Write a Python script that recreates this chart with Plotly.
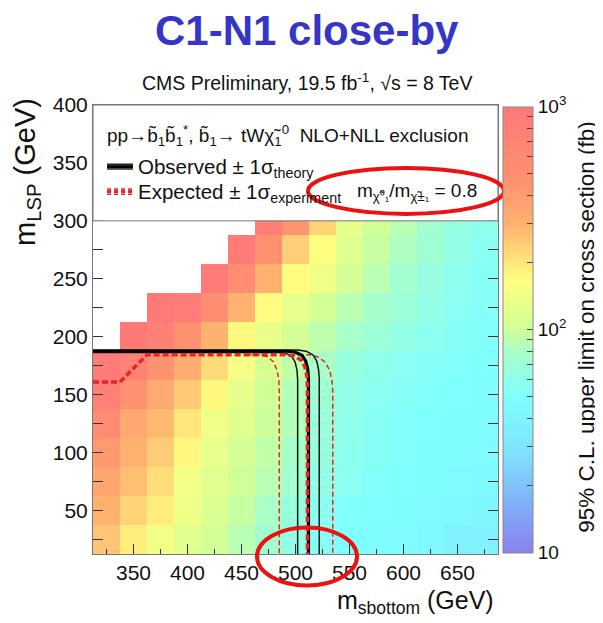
import math
import plotly.graph_objects as go

# ---------------- data ----------------
x_centers = [325, 350, 375, 400, 425, 450, 475, 500, 525, 550, 575, 600, 625, 650, 675]
y_centers = [25, 50, 75, 100, 125, 150, 175, 200, 225, 250, 275, 300]
N = None
limits_fb = [
    [260, 190, 145, 120, 102, 88, 74, 62, 55, 50, 48, 46, 44, 39, 40],      # 25
    [300, 230, 190, 140, 112, 95, 80, 66, 57, 52, 50, 48, 46, 44, 43],      # 50
    [350, 270, 215, 150, 120, 100, 88, 74, 62, 56, 52, 50, 48, 46, 45],     # 75
    [420, 300, 245, 175, 130, 105, 92, 78, 66, 58, 54, 51, 49, 48, 47],     # 100
    [560, 340, 280, 200, 145, 120, 98, 85, 68, 60, 55, 52, 50, 49, 48],     # 125
    [760, 480, 330, 250, 175, 128, 100, 85, 72, 62, 57, 54, 52, 50, 49],    # 150
    [900, 720, 460, 320, 220, 150, 110, 92, 80, 66, 60, 56, 53, 51, 50],    # 175
    [N, 950, 780, 480, 300, 175, 130, 105, 90, 80, 70, 63, 58, 54, 52],     # 200
    [N, N, 950, 850, 520, 300, 170, 130, 105, 88, 78, 70, 62, 56, 53],      # 225
    [N, N, N, N, 900, 520, 300, 170, 140, 105, 88, 75, 65, 58, 54],         # 250
    [N, N, N, N, N, 900, 480, 240, 165, 120, 95, 82, 72, 62, 56],           # 275
    [N, N, N, N, N, N, 800, 450, 230, 130, 100, 88, 75, 65, 58],            # 300
]

# exclusion contours (m_sbottom, m_LSP) in GeV
obs_x = [312.5, 492, 500, 506, 509.5, 511.3, 512, 512]
obs_y = [187.5, 187.5, 186.6, 184, 179, 172, 164, 12.5]
obs_up_x = [312.5, 502, 510, 516, 519.5, 521.3, 522, 522]
obs_up_y = [188.5, 188.5, 187.4, 184.5, 179.5, 172, 164, 12.5]
obs_dn_x = [312.5, 484, 491, 496.5, 499.7, 501.4, 502, 502]
obs_dn_y = [186.5, 186.5, 185.6, 183, 178, 171, 163, 12.5]

exp_x = [312.5, 337.5, 362.5, 490, 499, 505, 508.7, 510.5, 511, 511]
exp_y = [161, 161, 184.5, 184.5, 183.3, 180, 174, 166, 158, 12.5]
exp_dn_x = [455, 467, 474, 479.5, 483, 484.6, 485, 485]
exp_dn_y = [184.5, 184.5, 182.8, 178.5, 171, 162, 152, 12.5]
exp_up_x = [495, 512, 521, 527.5, 531.7, 533.8, 534.5, 534.5]
exp_up_y = [184.5, 184.5, 182.5, 178, 171, 162, 153, 12.5]

x_ticks = [350, 400, 450, 500, 550, 600, 650]
y_ticks = [50, 100, 150, 200, 250, 300, 350, 400]
cbar_major = [10, 100, 1000]
cbar_major_text = ["10", "10<sup>2</sup>", "10<sup>3</sup>"]
cbar_minor = [20, 30, 40, 50, 60, 70, 80, 90, 200, 300, 400, 500, 600, 700, 800, 900]

colorscale = [
    [0.0, "#8a80f0"], [0.11, "#80b0f8"], [0.22, "#80e0ff"], [0.35, "#80ffff"],
    [0.45, "#a8ffc8"], [0.5, "#d0ff98"], [0.61, "#ffff80"], [0.74, "#ffb070"],
    [0.84, "#ff9070"], [1.0, "#ff7878"],
]

FONT = "Liberation Sans, Arial, Helvetica, sans-serif"

# page body has an 8px margin: figure is placed at (8, 8) in the window
OFF = 8
W, H = 603 - OFF, 623 - OFF
PL, PR, PT, PB = 93, 498, 105, 554.5   # plot area in window pixels

# ---------------- figure ----------------
z_log = [[(math.log10(v) if v is not None else float("nan")) for v in row] for row in limits_fb]

cb_vals = [math.log10(v) for v in cbar_major + cbar_minor]
cb_text = cbar_major_text + [""] * len(cbar_minor)

def px2paper_x(px):
    return (px - PL) / (PR - PL)

def px2paper_y(py):
    return (PB - py) / (PB - PT)

fig = go.Figure()
fig.add_trace(go.Heatmap(
    x=x_centers, y=y_centers, z=z_log, zmin=1, zmax=3, connectgaps=False,
    colorscale=colorscale, hoverongaps=False,
    colorbar=dict(
        x=px2paper_x(503), xanchor="left", xref="paper",
        y=px2paper_y(330), yanchor="middle",
        thickness=30, len=446, lenmode="pixels", ypad=0, xpad=0,
        outlinewidth=1, outlinecolor="#888888",
        tickvals=cb_vals, ticktext=cb_text, ticks="inside", ticklen=6,
        tickcolor="#444444", tickwidth=1,
        tickfont=dict(family=FONT, size=19, color="#111111"),
    ),
))

def line_trace(xs, ys, color, width, dash="solid"):
    fig.add_trace(go.Scatter(x=xs, y=ys, mode="lines", showlegend=False,
                             hoverinfo="skip",
                             line=dict(color=color, width=width, dash=dash)))

line_trace(exp_dn_x, exp_dn_y, "#e8242a", 1.5, "5px,3px")
line_trace(exp_up_x, exp_up_y, "#e8242a", 1.5, "5px,3px")
line_trace(obs_dn_x, obs_dn_y, "#111111", 1.5)
line_trace(obs_up_x, obs_up_y, "#111111", 1.5)
line_trace(obs_x, obs_y, "#000000", 3.2)
line_trace(exp_x, exp_y, "#e8242a", 3.5, "6px,3px")

shapes = []
# legend box (white) on top of the upper band
shapes.append(dict(type="rect", xref="x", yref="y", x0=312.5, x1=687.5, y0=300, y1=400,
                   fillcolor="white", line=dict(color="#777777", width=1), layer="above"))
# legend symbols
for yy, w in [(348.9, 1.3), (346.8, 3), (344.8, 1.3)]:
    shapes.append(dict(type="line", xref="x", yref="y", x0=325.5, x1=349.5, y0=yy, y1=yy,
                       line=dict(color="black", width=w), layer="above"))
for yy, w in [(327.6, 1.5), (325.3, 3), (323.0, 1.5)]:
    shapes.append(dict(type="line", xref="x", yref="y", x0=325.5, x1=349.5, y0=yy, y1=yy,
                       line=dict(color="#e8242a", width=w, dash="4px,3px"), layer="above"))

# red highlight ellipses
shapes.append(dict(type="circle", xref="paper", yref="paper",
                   x0=px2paper_x(308), x1=px2paper_x(504),
                   y0=px2paper_y(214), y1=px2paper_y(168),
                   line=dict(color="#ee1111", width=4), layer="above"))
shapes.append(dict(type="circle", xref="paper", yref="paper",
                   x0=px2paper_x(257), x1=px2paper_x(357),
                   y0=px2paper_y(586), y1=px2paper_y(528),
                   line=dict(color="#ee1111", width=4), layer="above"))

annotations = [
    dict(text="<b>C1-N1 close-by</b>", xref="paper", yref="paper",
         x=px2paper_x(307), y=px2paper_y(30), xanchor="center", yanchor="middle",
         showarrow=False, font=dict(family=FONT, size=42, color="#3535c8")),
    dict(text="CMS Preliminary, 19.5 fb<sup>-1</sup>, \u221As = 8 TeV", xref="paper", yref="paper",
         x=px2paper_x(307), y=px2paper_y(82), xanchor="center", yanchor="middle",
         showarrow=False, font=dict(family=FONT, size=19.5, color="#111111")),
    dict(text="m<sub>LSP</sub> (GeV)", xref="paper", yref="paper", textangle=-90,
         x=px2paper_x(27), y=px2paper_y(96), xanchor="center", yanchor="top",
         showarrow=False, font=dict(family=FONT, size=29, color="#111111")),
    dict(text="m<sub>sbottom</sub> (GeV)", xref="paper", yref="paper",
         x=px2paper_x(496), y=px2paper_y(603), xanchor="right", yanchor="middle",
         showarrow=False, font=dict(family=FONT, size=25, color="#111111")),
    dict(text="95% C.L. upper limit on cross section (fb)", xref="paper", yref="paper", textangle=-90,
         x=px2paper_x(587), y=px2paper_y(328), xanchor="center", yanchor="middle",
         showarrow=False, font=dict(family=FONT, size=22.5, color="#111111")),
    dict(text="pp\u2192b\u0303<sub>1</sub>b\u0303<sub>1</sub><sup>*</sup>, b\u0303<sub>1</sub>\u2192 tW\u03c7\u0303<sub>1</sub><sup>0</sup>  NLO+NLL exclusion",
         xref="x", yref="y", x=323.6, y=374, xanchor="left", yanchor="middle",
         showarrow=False, font=dict(family=FONT, size=19, color="#111111")),
    dict(text="Observed \u00b1 1\u03c3<sub>theory</sub>", xref="x", yref="y", x=352.0, y=345.5,
         xanchor="left", yanchor="middle", showarrow=False,
         font=dict(family=FONT, size=20.5, color="#111111")),
    dict(text="Expected \u00b1 1\u03c3<sub>experiment</sub>", xref="x", yref="y", x=352.0, y=324,
         xanchor="left", yanchor="middle", showarrow=False,
         font=dict(family=FONT, size=20.5, color="#111111")),
    dict(text="m<sub>\u03c7\u0303\u2070\u2081</sub>/m<sub>\u03c7\u0303\u00b1\u2081</sub> = 0.8", xref="x", yref="y",
         x=555.5, y=325, xanchor="left", yanchor="middle", showarrow=False,
         font=dict(family=FONT, size=19, color="#111111")),
]

fig.update_layout(
    width=W, height=H,
    margin=dict(l=PL - OFF, r=W - (PR - OFF), t=PT - OFF, b=H - (PB - OFF)),
    paper_bgcolor="white", plot_bgcolor="white",
    shapes=shapes, annotations=annotations, showlegend=False,
    font=dict(family=FONT, color="#111111"),
)
fig.update_xaxes(
    range=[312.5, 687.5], tickvals=x_ticks, ticks="inside", ticklen=10, tickwidth=1,
    tickcolor="#333333", showgrid=False, zeroline=False, showline=True, linecolor="#777777",
    linewidth=1, mirror="ticks", tickfont=dict(family=FONT, size=21, color="#111111"),
    minor=dict(dtick=25, tick0=0, ticks="inside", ticklen=5, tickcolor="#333333", showgrid=False),
)
fig.update_yaxes(
    range=[12.5, 400], tickvals=y_ticks, ticks="inside", ticklen=10, tickwidth=1,
    tickcolor="#333333", showgrid=False, zeroline=False, showline=True, linecolor="#777777",
    linewidth=1, mirror="ticks", tickfont=dict(family=FONT, size=21, color="#111111"),
    minor=dict(dtick=25, tick0=0, ticks="inside", ticklen=10, tickcolor="#333333", showgrid=False),
)

fig.write_html("out.html")
